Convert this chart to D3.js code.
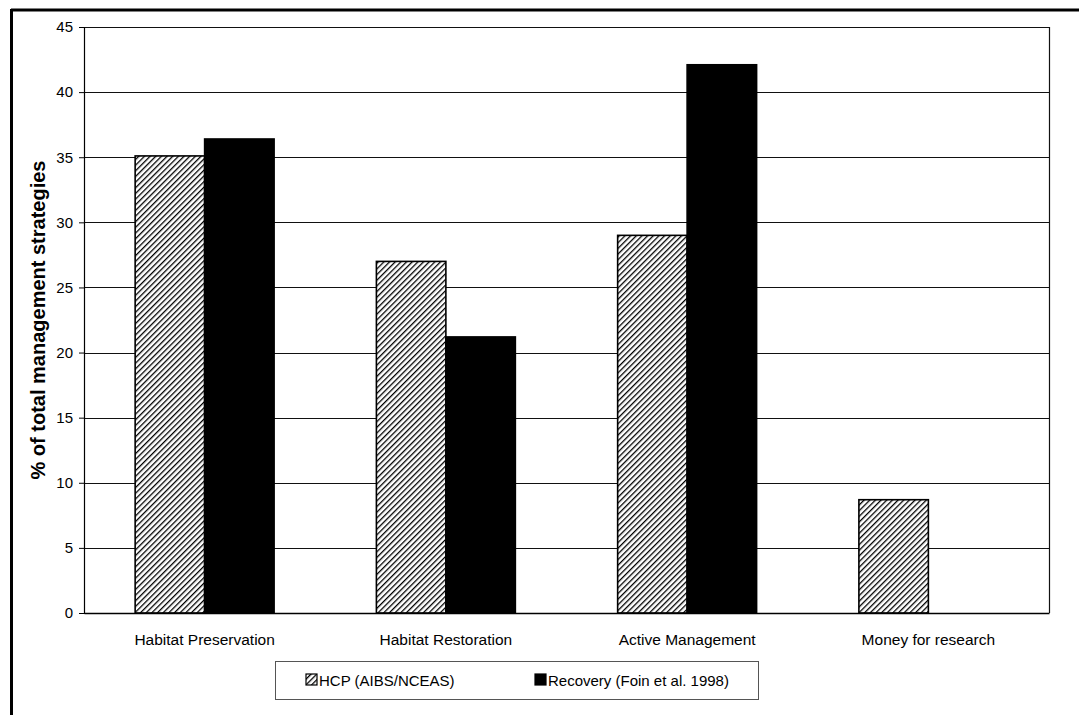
<!DOCTYPE html>
<html>
<head>
<meta charset="utf-8">
<script src="https://cdn.jsdelivr.net/npm/d3@7"></script>
<style>
  html, body { margin: 0; padding: 0; background: #fff; }
  svg { display: block; font-family: "Liberation Sans", Arial, sans-serif; }
</style>
</head>
<body>
<svg id="chart" width="1079" height="715"></svg>
<script>
const categories = ["Habitat Preservation", "Habitat Restoration", "Active Management", "Money for research"];
const seriesNames = ["HCP (AIBS/NCEAS)", "Recovery (Foin et al. 1998)"];
const hcpValues = [35.1, 27.0, 29.0, 8.7];
const recoveryValues = [36.4, 21.2, 42.1, null];
const yTicks = [0, 5, 10, 15, 20, 25, 30, 35, 40, 45];
const yLabel = "% of total management strategies";

const svg = d3.select("#chart");
const margin = { left: 84, right: 1049, top: 27, bottom: 613 };

// hatch pattern
const defs = svg.append("defs");
const pat = defs.append("pattern")
  .attr("id", "hatch")
  .attr("patternUnits", "userSpaceOnUse")
  .attr("width", 4).attr("height", 4)
  .attr("patternTransform", "rotate(45)");
pat.append("rect").attr("width", 4).attr("height", 4).attr("fill", "#fff");
pat.append("line").attr("x1", 0).attr("y1", 0).attr("x2", 0).attr("y2", 4)
  .attr("stroke", "#000").attr("stroke-width", 2.6);

// outer frame
svg.append("line").attr("x1", 11).attr("x2", 1079).attr("y1", 10).attr("y2", 10)
  .attr("stroke", "#000").attr("stroke-width", 3);
svg.append("line").attr("x1", 11.5).attr("x2", 11.5).attr("y1", 9).attr("y2", 715)
  .attr("stroke", "#000").attr("stroke-width", 3);

const x = d3.scaleBand().domain(categories).range([margin.left, margin.right]).paddingInner(0).paddingOuter(0);
const xs = d3.scaleBand().domain(seriesNames).range([x.bandwidth() * 0.212, x.bandwidth() * 0.788]);
const y = d3.scaleLinear().domain([0, 45]).range([margin.bottom, margin.top]);

// grid lines
svg.append("g").selectAll("line").data(yTicks.filter(t => t > 0)).join("line")
  .attr("x1", margin.left).attr("x2", margin.right)
  .attr("y1", d => Math.round(y(d)) + 0.5).attr("y2", d => Math.round(y(d)) + 0.5)
  .attr("stroke", "#111").attr("stroke-width", 1);

// right border
svg.append("line").attr("x1", margin.right + 0.5).attr("x2", margin.right + 0.5)
  .attr("y1", margin.top).attr("y2", margin.bottom)
  .attr("stroke", "#111").attr("stroke-width", 1.2);

// bars
const data = [];
categories.forEach((c, i) => {
  data.push({ cat: c, s: seriesNames[0], v: hcpValues[i] });
  if (recoveryValues[i] != null) data.push({ cat: c, s: seriesNames[1], v: recoveryValues[i] });
});
svg.append("g").selectAll("rect").data(data).join("rect")
  .attr("x", d => x(d.cat) + xs(d.s))
  .attr("width", xs.bandwidth())
  .attr("y", d => y(d.v))
  .attr("height", d => y(0) - y(d.v))
  .attr("fill", d => d.s === seriesNames[0] ? "url(#hatch)" : "#000")
  .attr("stroke", "#000").attr("stroke-width", 1.6);

// y axis
const yAxis = d3.axisLeft(y).tickValues(yTicks).tickSize(5).tickPadding(6);
const gy = svg.append("g").attr("transform", `translate(${margin.left},0)`).call(yAxis);
gy.select(".domain").attr("stroke", "#000").attr("stroke-width", 1.2);
gy.selectAll(".tick line").attr("stroke", "#000");
gy.selectAll(".tick text").attr("font-size", 15).attr("fill", "#000")
  .attr("font-family", "Liberation Sans, Arial, sans-serif");

// x axis
const xAxis = d3.axisBottom(x).tickSize(0).tickPadding(21);
const gx = svg.append("g").attr("transform", `translate(0,${margin.bottom})`).call(xAxis);
gx.select(".domain").attr("stroke", "#000").attr("stroke-width", 1.5);
gx.selectAll(".tick text").attr("font-size", 15.5).attr("fill", "#000")
  .attr("font-family", "Liberation Sans, Arial, sans-serif");

// y label
svg.append("text")
  .attr("transform", `translate(45,320) rotate(-90)`)
  .attr("text-anchor", "middle")
  .attr("font-size", 20).attr("font-weight", "bold").attr("fill", "#000")
  .text(yLabel);

// legend
const lg = svg.append("g");
lg.append("rect").attr("x", 275.5).attr("y", 661.5).attr("width", 483).attr("height", 38)
  .attr("fill", "#fff").attr("stroke", "#555").attr("stroke-width", 1);
const legendItems = [
  { name: seriesNames[0], fill: "url(#hatch)", x: 306 },
  { name: seriesNames[1], fill: "#000", x: 535 }
];
legendItems.forEach(it => {
  lg.append("rect").attr("x", it.x).attr("y", 674).attr("width", 11).attr("height", 11)
    .attr("fill", it.fill).attr("stroke", "#000").attr("stroke-width", 1.2);
  lg.append("text").attr("x", it.x + 13).attr("y", 686)
    .attr("font-size", 15).attr("fill", "#000").text(it.name);
});
</script>
</body>
</html>
